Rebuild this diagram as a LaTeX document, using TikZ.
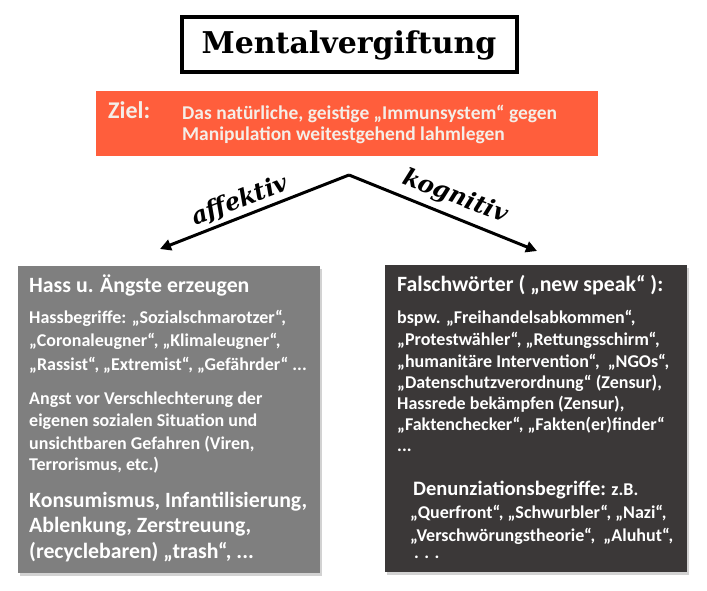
\documentclass[tikz,border=0pt]{standalone}
\usepackage{fontspec}
\setmainfont{Carlito}
\newfontfamily\titlefont{DejaVu Serif}
\usetikzlibrary{arrows.meta,shadows}
\definecolor{zielred}{HTML}{FF5E3C}
\definecolor{zieltext}{HTML}{F4EEE8}
\definecolor{leftgray}{HTML}{7F7F7F}
\definecolor{rightdark}{HTML}{3B3838}
\tikzset{
  panel/.style={draw=none,drop shadow={opacity=0.35,shadow xshift=2pt,shadow yshift=-3pt}},
  txt/.style={anchor=west,inner sep=0pt,text=white,font=\bfseries\fontsize{18}{18}\selectfont},
  bigtxt/.style={txt,font=\bfseries\fontsize{21.8}{21.8}\selectfont},
  headtxt/.style={txt,font=\bfseries\fontsize{21.8}{21.8}\selectfont},
  way/.style={line width=3pt,-{Triangle[length=11pt,width=11pt]}},
  waylabel/.style={font=\titlefont\bfseries\itshape\fontsize{24}{24}\selectfont}
}
\begin{document}
\begin{tikzpicture}[x=1pt,y=-1pt]
\useasboundingbox[fill=white] (0,0) rectangle (707,591);
% title
\draw[line width=4pt] (182,17) rectangle (517,72);
\node[font=\titlefont\bfseries\fontsize{30}{30}\selectfont] (title) at (349,45) {Mentalvergiftung};
% goal
\fill[zielred] (96,91) rectangle (598,156);
\node[txt,text=zieltext,font=\bfseries\fontsize{24}{24}\selectfont] (ziel) at (108,110) {Ziel:};
\node[txt,text=zieltext,font=\bfseries\fontsize{19.5}{19.5}\selectfont] (ziel1) at (182,114) {Das natürliche, geistige „Immunsystem“ gegen};
\node[txt,text=zieltext,font=\bfseries\fontsize{19.5}{19.5}\selectfont] (ziel2) at (182,135) {Manipulation weitestgehend lahmlegen};
% the two ways
\coordinate (apex) at (349,175);
\coordinate (lefttip) at (160,249);
\coordinate (righttip) at (537,251);
\draw[way] (apex) -- (lefttip);
\draw[way] (apex) -- (righttip);
\node[waylabel,rotate=21] (affektiv) at (240,201) {affektiv};
\node[waylabel,rotate=-21] (kognitiv) at (455,197) {kognitiv};
% left panel
\fill[leftgray,panel] (18,266) rectangle (320,573);
\node[headtxt] (hass) at (29,285) {Hass u. Ängste erzeugen};
\node[txt] (l1) at (29,318) {Hassbegriffe: „Sozialschmarotzer“,};
\node[txt] (l2) at (29,341) {„Coronaleugner“, „Klimaleugner“,};
\node[txt] (l3) at (29,365) {„Rassist“, „Extremist“, „Gefährder“ ...};
\node[txt] (l4) at (29,400) {Angst vor Verschlechterung der};
\node[txt] (l5) at (29,422) {eigenen sozialen Situation und};
\node[txt] (l6) at (29,444) {unsichtbaren Gefahren (Viren,};
\node[txt] (l7) at (29,465) {Terrorismus, etc.)};
\node[bigtxt] (l8) at (29,502) {Konsumismus, Infantilisierung,};
\node[bigtxt] (l9) at (29,527) {Ablenkung, Zerstreuung,};
\node[bigtxt] (l10) at (29,552) {(recyclebaren) „trash“, ...};
% right panel
\fill[rightdark,panel] (385,265) rectangle (687,572);
\node[headtxt] (falsch) at (397,285) {Falschwörter ( „new speak“ ):};
\node[txt] (r1) at (397,318) {bspw. „Freihandelsabkommen“,};
\node[txt] (r2) at (397,340) {„Protestwähler“, „Rettungsschirm“,};
\node[txt] (r3) at (397,362) {„humanitäre Intervention“,~ „NGOs“,};
\node[txt] (r4) at (397,383) {„Datenschutzverordnung“ (Zensur),};
\node[txt] (r5) at (397,404) {Hassrede bekämpfen (Zensur),};
\node[txt] (r6) at (397,425) {„Faktenchecker“, „Fakten(er)finder“};
\node[txt] (r7) at (397,450) {...};
\node[txt] (denunz) at (413,490) {{\fontsize{20.5}{20.5}\selectfont Denunziationsbegriffe:} z.B.};
\node[txt] (r8) at (410,513) {„Querfront“, „Schwurbler“, „Nazi“,};
\node[txt] (r9) at (410,536) {„Verschwörungstheorie“,~ „Aluhut“,};
\node[txt] (r10) at (414,557) {. . .};
\end{tikzpicture}
\end{document}
